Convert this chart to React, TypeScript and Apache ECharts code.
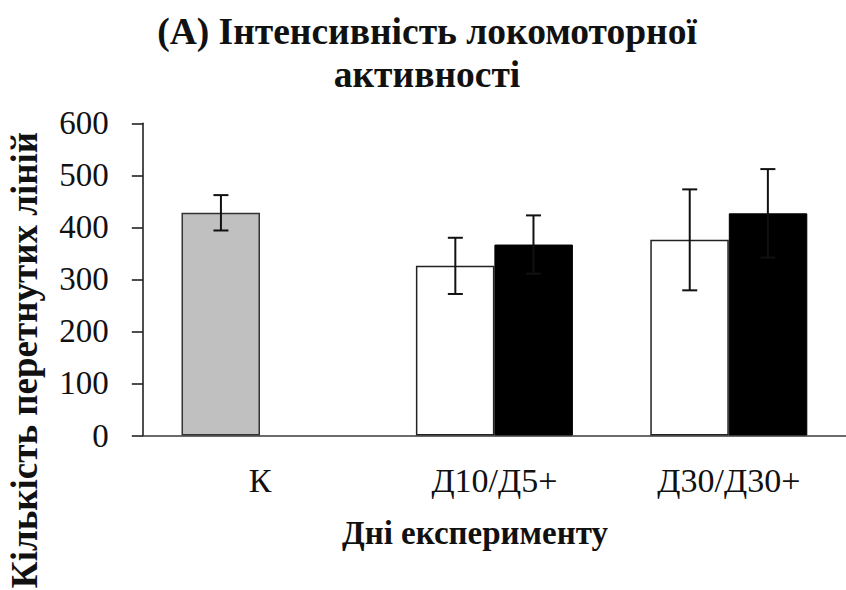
import React, { useEffect, useRef } from "react";
import * as echarts from "echarts";

const categories = ["К", "Д10/Д5+", "Д30/Д30+"];
const firstValues = [428, 326, 376];
const firstErrors = [34, 54, 97];
const secondValues: (number | null)[] = [null, 367, 427];
const secondErrors: (number | null)[] = [null, 56, 85];
const yTicks = { min: 0, max: 600, interval: 100 };

const titleLine1 = "(A) Інтенсивність локомоторної";
const titleLine2 = "активності";
const yName = "Кількість перетнутих ліній";
const xName = "Дні експерименту";

const FONT = "'Liberation Serif', 'Times New Roman', serif";

export default function App() {
  const ref = useRef<HTMLDivElement>(null);
  useEffect(() => {
    if (!ref.current) return;
    const chart = echarts.init(ref.current, null, { renderer: "svg" });

    const errData: any[] = [];
    firstValues.forEach((v, i) => errData.push([i, v, firstErrors[i], 0]));
    secondValues.forEach((v, i) => {
      if (v != null) errData.push([i, v, secondErrors[i], 1]);
    });

    const option: any = {
      animation: false,
      backgroundColor: "#ffffff",
      grid: { left: 142.8, top: 123.3, width: 706.8, height: 312.2, containLabel: false },
      xAxis: {
        type: "category",
        data: categories,
        axisLine: { show: true, lineStyle: { color: "#3a3a3a", width: 1.6 } },
        axisTick: { show: false },
        axisLabel: { fontFamily: FONT, fontSize: 34, color: "#111", margin: 28, lineHeight: 34 },
        splitLine: { show: false },
      },
      yAxis: {
        type: "value",
        min: yTicks.min,
        max: yTicks.max,
        interval: yTicks.interval,
        axisLine: { show: true, lineStyle: { color: "#222", width: 1.6 } },
        axisTick: { show: true, length: 11, lineStyle: { color: "#222", width: 1.6 } },
        axisLabel: { fontFamily: FONT, fontSize: 33, color: "#111", margin: 34 },
        splitLine: { show: false },
      },
      series: [
        {
          type: "bar",
          barWidth: 78.5,
          barGap: "0%",
          data: firstValues.map((v, i) =>
            i === 0
              ? { value: v, itemStyle: { color: "#c0c0c0", borderColor: "#333", borderWidth: 1.5 } }
              : v
          ),
          itemStyle: { color: "#ffffff", borderColor: "#222", borderWidth: 1.5 },
          z: 2,
        },
        {
          type: "bar",
          barWidth: 78.5,
          barGap: "0%",
          data: secondValues.map((v) => (v == null ? "-" : v)),
          itemStyle: { color: "#000000", borderColor: "#000", borderWidth: 1 },
          z: 2,
        },
        {
          type: "custom",
          z: 5,
          data: errData,
          renderItem: (params: any, api: any) => {
            const c = api.value(0);
            const v = api.value(1);
            const e = api.value(2);
            const s = api.value(3);
            const bw = api.size([1, 0])[0] / 3;
            const base = api.coord([c, v]);
            const x = base[0] + (s === 0 ? -bw / 2 : bw / 2);
            const yTop = api.coord([c, v + e])[1];
            const yBot = api.coord([c, v - e])[1];
            const cap = 7.5;
            const style = { stroke: "#111", lineWidth: 2 };
            return {
              type: "group",
              children: [
                { type: "line", shape: { x1: x, y1: yTop, x2: x, y2: yBot }, style },
                { type: "line", shape: { x1: x - cap, y1: yTop, x2: x + cap, y2: yTop }, style },
                { type: "line", shape: { x1: x - cap, y1: yBot, x2: x + cap, y2: yBot }, style },
              ],
            };
          },
        },
      ],
      graphic: [
        {
          type: "text",
          x: 427,
          y: 31,
          style: { text: titleLine1, fontFamily: FONT, fontSize: 37.5, fontWeight: "bold", fill: "#111", textAlign: "center", textVerticalAlign: "middle" },
        },
        {
          type: "text",
          x: 427,
          y: 74,
          style: { text: titleLine2, fontFamily: FONT, fontSize: 37.5, fontWeight: "bold", fill: "#111", textAlign: "center", textVerticalAlign: "middle" },
        },
        {
          type: "text",
          x: 475,
          y: 533,
          style: { text: xName, fontFamily: FONT, fontSize: 33, fontWeight: "bold", fill: "#111", textAlign: "center", textVerticalAlign: "middle" },
        },
        {
          type: "text",
          x: 24,
          y: 360,
          rotation: Math.PI / 2,
          style: { text: yName, fontFamily: FONT, fontSize: 37, fontWeight: "bold", fill: "#111", textAlign: "center", textVerticalAlign: "middle" },
        },
      ],
    };
    chart.setOption(option);
    return () => chart.dispose();
  }, []);

  return (
    <div
      ref={ref}
      style={{ position: "fixed", left: 0, top: 0, width: 846, height: 590, background: "#fff" }}
    />
  );
}
